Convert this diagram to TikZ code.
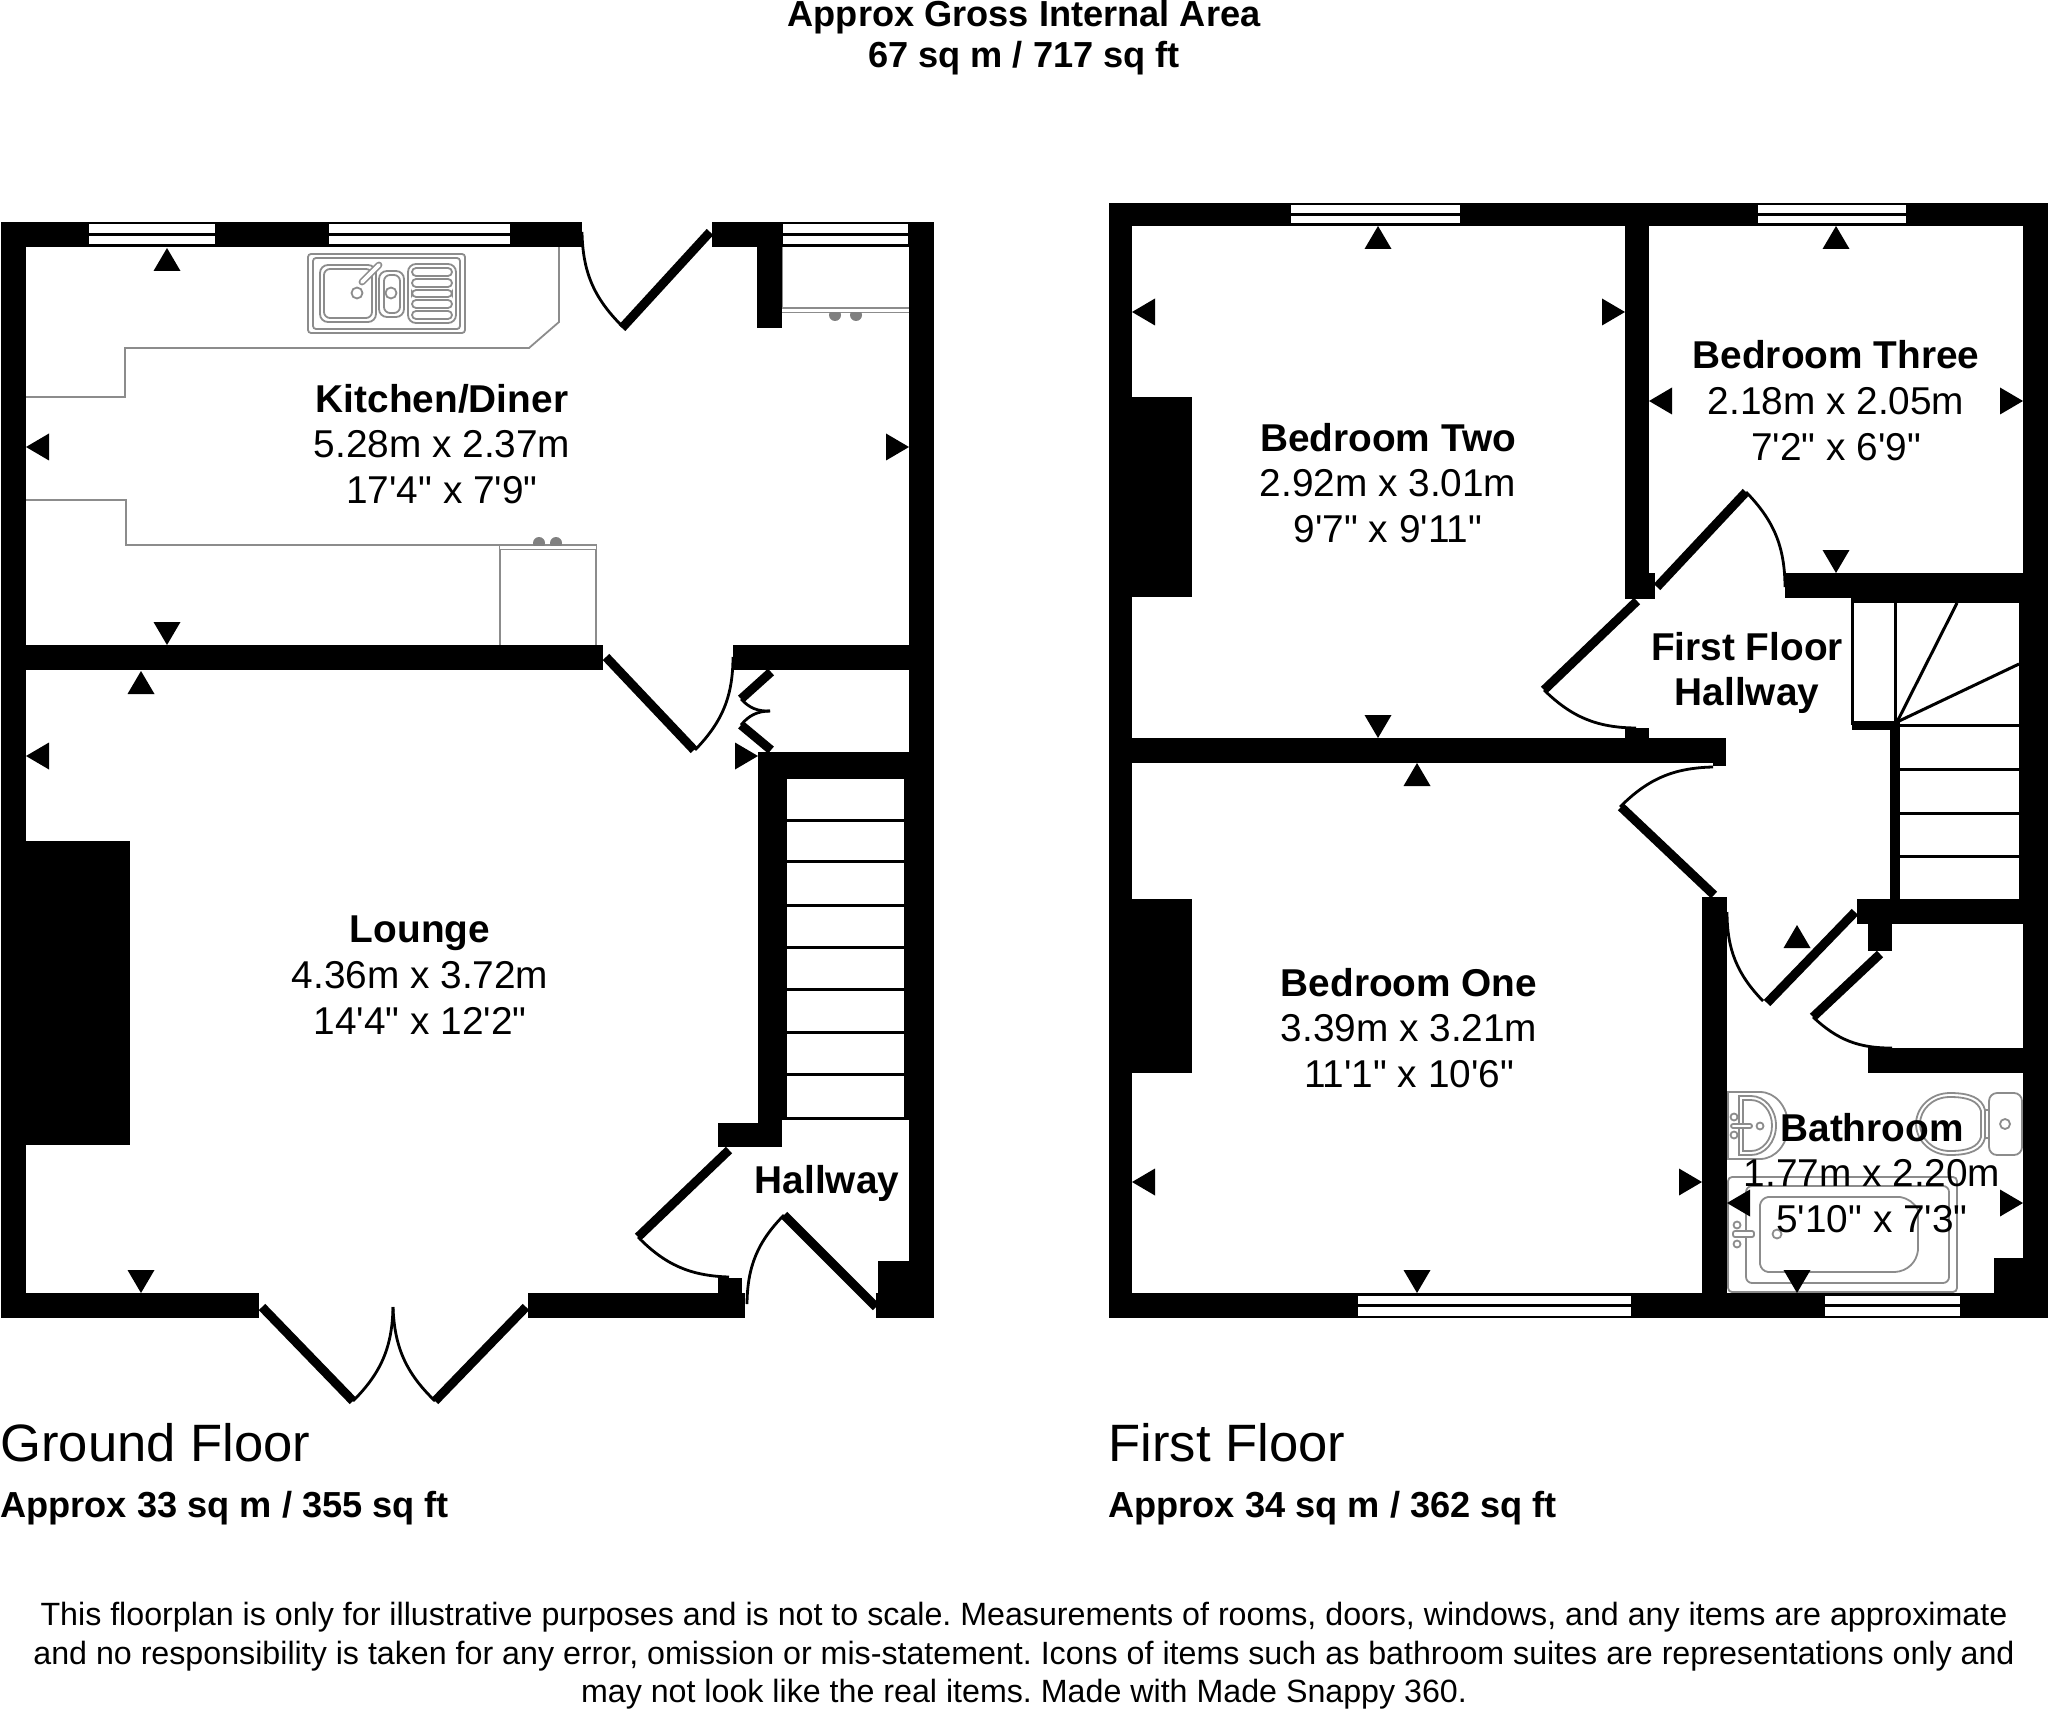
\documentclass[tikz,border=0pt]{standalone}
\usepackage{fontspec}
\defaultfontfeatures[\rmfamily]{}
\setmainfont{Liberation Sans}
\begin{document}
    \begin{tikzpicture}[x=0.5pt,y=-0.5pt,
        wall/.style={fill=black},
        leaf/.style={line width=4.5pt},
        swing/.style={line width=1.4pt},
        pane/.style={fill=white,draw=black,line width=1pt},
        midbar/.style={line width=1.6pt},
        fixture/.style={draw=black!45,line width=0.9pt},
        knob/.style={fill=black!50},
        tread/.style={line width=1.5pt},
        room/.style={align=center,inner sep=0pt,font=\fontsize{19.4pt}{22.9pt}\selectfont},
        heading/.style={inner sep=0pt,anchor=west,font=\fontsize{26.3pt}{30pt}\selectfont},
        subheading/.style={inner sep=0pt,anchor=west,font=\fontsize{18.1pt}{22pt}\selectfont\bfseries},
        note/.style={align=center,inner sep=0pt,font=\fontsize{16.1pt}{19.2pt}\selectfont\frenchspacing}]
      \useasboundingbox (0,0) rectangle (2048,1711);
      \begin{scope}[fixture]
        \draw (559,247) -- (559,322) -- (529,348) -- (125,348) -- (125,397) -- (26,397);
        \draw (26,500) -- (126,500) -- (126,545) -- (596,545) -- (596,645);
        \draw (500,645) -- (500,545);
        \draw (500,549) -- (596,549);
        \draw (782,308) -- (909,308);
        \draw (782,312) -- (909,312);
        \draw (782,247) -- (782,312);
        \draw[rounded corners=1.5pt] (308,254) rectangle (465,333);
        \draw[rounded corners=1.5pt] (313,258) rectangle (460,329);
        \draw[rounded corners=4pt] (320,265) rectangle (376,322);
        \draw[rounded corners=3pt] (324,269) rectangle (372,318);
        \draw[rounded corners=4pt] (379,271) rectangle (404,317);
        \draw[rounded corners=3pt] (384,275) rectangle (400,313);
        \draw[rounded corners=4pt] (408,264) rectangle (456,323);
        \draw[rounded corners=2pt] (412,268) rectangle (452,276);
        \draw[rounded corners=2pt] (412,279) rectangle (452,287);
        \draw[rounded corners=2pt] (412,290) rectangle (452,297);
        \draw[rounded corners=2pt] (412,300) rectangle (452,308);
        \draw[rounded corners=2pt] (412,311) rectangle (452,319);
        \draw (357,293) circle[radius=5.5];
        \draw (391,293) circle[radius=5.5];
        \draw[line width=3.4pt,line cap=round] (362,282) -- (379,265);
        \draw[white,line width=1.8pt,line cap=round] (362,282) -- (379,265);
        \draw (1760,1092) -- (1728,1092) -- (1728,1159) -- (1760,1159) arc[start angle=90,end angle=-90,x radius=28,y radius=33.5];
        \draw (1751,1096) -- (1739,1096) -- (1739,1155) -- (1751,1155) arc[start angle=90,end angle=-90,x radius=25,y radius=29.5];
        \draw (1751,1100) -- (1743,1100) -- (1743,1151) -- (1751,1151) arc[start angle=90,end angle=-90,x radius=21,y radius=25.5];
        \draw (1734,1117) circle[radius=3.5];
        \draw (1734,1135) circle[radius=3.5];
        \draw (1760,1126) circle[radius=3.5];
        \draw[rounded corners=1pt,fill=white] (1731,1124) rectangle (1752,1128);
        \draw[rounded corners=4pt] (1989,1093) rectangle (2022,1155);
        \draw (2005,1124) circle[radius=5];
        \draw (1985,1110) .. controls (1982,1098) and (1970,1093) .. (1950,1093) .. controls (1930,1093) and (1916,1108) .. (1916,1124) .. controls (1916,1140) and (1930,1155) .. (1950,1155) .. controls (1970,1155) and (1982,1150) .. (1985,1138) -- cycle;
        \draw (1981,1111) .. controls (1978,1101) and (1968,1097) .. (1950,1097) .. controls (1932,1097) and (1920,1110) .. (1920,1124) .. controls (1920,1138) and (1932,1151) .. (1950,1151) .. controls (1968,1151) and (1978,1147) .. (1981,1137) -- cycle;
        \draw (1985,1110) -- (1989,1110);
        \draw (1985,1138) -- (1989,1138);
        \draw[rounded corners=2pt] (1728,1177) rectangle (1957,1292);
        \draw[rounded corners=3pt] (1746,1186) rectangle (1949,1283);
        \draw (1768,1197) -- (1900,1197) to[bend left=25] (1918,1210) -- (1918,1250) to[bend left=40] (1895,1272) -- (1768,1272);
        \draw (1768,1272) to[bend left=35] (1760,1264) -- (1760,1205) to[bend left=35] (1768,1197);
        \draw (1737,1225) circle[radius=3.5];
        \draw (1737,1244) circle[radius=3.5];
        \draw (1777,1234) circle[radius=4.5];
        \draw[rounded corners=1pt,fill=white] (1733,1231) rectangle (1754,1237);
      \end{scope}
      \fill[knob] (539,543) circle[radius=6];
      \fill[knob] (556,543) circle[radius=6];
      \fill[knob] (835,315) circle[radius=6];
      \fill[knob] (856,315) circle[radius=6];
      \fill[white] (500,546) rectangle (596,549);
      \fill[white] (782,309) rectangle (909,312);
      \begin{scope}[wall]
        \fill (1,222) rectangle (582,247);
        \fill (712,222) rectangle (934,247);
        \fill (1,222) rectangle (26,1318);
        \fill (909,222) rectangle (934,1318);
        \fill (757,247) rectangle (782,328);
        \fill (26,645) rectangle (603,670);
        \fill (733,645) rectangle (909,670);
        \fill (758,752) rectangle (909,779);
        \fill (904,779) rectangle (909,1117);
        \fill (758,779) rectangle (787,1117);
        \fill (758,1117) rectangle (782,1147);
        \fill (718,1123) rectangle (782,1147);
        \fill (26,841) rectangle (130,1145);
        \fill (1,1293) rectangle (259,1318);
        \fill (528,1293) rectangle (745,1318);
        \fill (718,1278) rectangle (742,1293);
        \fill (876,1293) rectangle (934,1318);
        \fill (878,1261) rectangle (909,1293);
        \fill (1109,203) rectangle (2048,226);
        \fill (1109,203) rectangle (1132,1318);
        \fill (2023,203) rectangle (2048,1318);
        \fill (2019,598) rectangle (2023,899);
        \fill (1625,226) rectangle (1649,599);
        \fill (1649,573) rectangle (1655,599);
        \fill (1785,573) rectangle (2023,598);
        \fill (1851,598) rectangle (2023,603);
        \fill (1625,728) rectangle (1649,740);
        \fill (1132,738) rectangle (1726,763);
        \fill (1713,763) rectangle (1726,766);
        \fill (1702,897) rectangle (1727,1318);
        \fill (1109,1293) rectangle (2048,1318);
        \fill (1132,397) rectangle (1192,597);
        \fill (1132,899) rectangle (1192,1073);
        \fill (1890,725) rectangle (1900,899);
        \fill (1852,721) rectangle (1900,730);
        \fill (1857,899) rectangle (2023,924);
        \fill (1868,924) rectangle (1892,951);
        \fill (1868,1048) rectangle (2023,1073);
        \fill (1994,1258) rectangle (2023,1293);
      \end{scope}
      \begin{scope}[pane]
        \filldraw (88,223.5) rectangle (216,245.5);
        \filldraw (328,223.5) rectangle (511,245.5);
        \filldraw (782,223.5) rectangle (909,245.5);
        \filldraw (1290,204.5) rectangle (1461,224.5);
        \filldraw (1757,204.5) rectangle (1907,224.5);
        \filldraw (1357,1295) rectangle (1632,1316.5);
        \filldraw (1824,1295) rectangle (1961,1316.5);
      \end{scope}
      \begin{scope}[midbar]
        \draw (88,234.5) -- (216,234.5);
        \draw (328,234.5) -- (511,234.5);
        \draw (782,234.5) -- (909,234.5);
        \draw (1290,214.5) -- (1461,214.5);
        \draw (1757,214.5) -- (1907,214.5);
        \draw (1357,1305.5) -- (1632,1305.5);
        \draw (1824,1305.5) -- (1961,1305.5);
      \end{scope}
      \begin{scope}[leaf]
        \draw (710,232) -- (622,328);
        \draw (606,657) -- (694,750);
        \draw (771,672) -- (741,699);
        \draw (741,725) -- (771,750);
        \draw (262,1307) -- (353,1401);
        \draw (526,1307) -- (435,1401);
        \draw (729,1150) -- (638,1237);
        \draw (784,1215) -- (876,1307);
        \draw (1657,587) -- (1746,492);
        \draw (1637,601) -- (1544,690);
        \draw (1621,807) -- (1714,895);
        \draw (1855,912) -- (1767,1003);
        \draw (1880,954) -- (1813,1017);
      \end{scope}
      \begin{scope}[swing]
        \draw (582,232) to[bend right=22] (622,326);
        \draw (733,657) to[bend left=22] (695,750);
        \draw (741,699) to[bend right=25] (770,711);
        \draw (770,711) to[bend right=25] (741,725);
        \draw (393,1307) to[bend left=22] (353,1401);
        \draw (393,1307) to[bend right=22] (435,1401);
        \draw (638,1237) to[bend right=22] (729,1277);
        \draw (784,1215) to[bend right=22] (747,1304);
        \draw (1746,492) to[bend left=22] (1785,587);
        \draw (1544,690) to[bend right=22] (1636,728);
        \draw (1713,767) to[bend right=22] (1620,807);
        \draw (1727,912) to[bend right=22] (1763,1001);
        \draw (1813,1017) to[bend right=22] (1892,1048);
      \end{scope}
      \begin{scope}[tread]
        \draw (787,820) -- (904,820);
        \draw (787,861) -- (904,861);
        \draw (787,905) -- (904,905);
        \draw (787,947) -- (904,947);
        \draw (787,989) -- (904,989);
        \draw (787,1032) -- (904,1032);
        \draw (787,1074) -- (904,1074);
        \draw (782,1118) -- (909,1118);
        \draw (1852.5,603) -- (1852.5,725);
        \draw (1895,603) -- (1895,725);
        \draw (1897,722) -- (1957,603);
        \draw (1897,722) -- (2019,664);
        \draw (1900,725.5) -- (2019,725.5);
        \draw (1900,769) -- (2019,769);
        \draw (1900,813) -- (2019,813);
        \draw (1900,856) -- (2019,856);
      \end{scope}
      \begin{scope}[wall]
        \fill (167,248) -- ++(-13.5,23) -- ++(27,0) -- cycle;
        \fill (141,671) -- ++(-13.5,23) -- ++(27,0) -- cycle;
        \fill (1378,226) -- ++(-13.5,23) -- ++(27,0) -- cycle;
        \fill (1417,763) -- ++(-13.5,23) -- ++(27,0) -- cycle;
        \fill (1836,226) -- ++(-13.5,23) -- ++(27,0) -- cycle;
        \fill (1797,925) -- ++(-13.5,23) -- ++(27,0) -- cycle;
        \fill (167,645) -- ++(-13.5,-23) -- ++(27,0) -- cycle;
        \fill (141,1293) -- ++(-13.5,-23) -- ++(27,0) -- cycle;
        \fill (1378,738) -- ++(-13.5,-23) -- ++(27,0) -- cycle;
        \fill (1417,1293) -- ++(-13.5,-23) -- ++(27,0) -- cycle;
        \fill (1836,573) -- ++(-13.5,-23) -- ++(27,0) -- cycle;
        \fill (1797,1293) -- ++(-13.5,-23) -- ++(27,0) -- cycle;
        \fill (26,447) -- ++(23,-13.5) -- ++(0,27) -- cycle;
        \fill (26,756) -- ++(23,-13.5) -- ++(0,27) -- cycle;
        \fill (1132,312) -- ++(23,-13.5) -- ++(0,27) -- cycle;
        \fill (1132,1182) -- ++(23,-13.5) -- ++(0,27) -- cycle;
        \fill (1649,401) -- ++(23,-13.5) -- ++(0,27) -- cycle;
        \fill (1727,1203) -- ++(23,-13.5) -- ++(0,27) -- cycle;
        \fill (909,447) -- ++(-23,-13.5) -- ++(0,27) -- cycle;
        \fill (758,756) -- ++(-23,-13.5) -- ++(0,27) -- cycle;
        \fill (1625,312) -- ++(-23,-13.5) -- ++(0,27) -- cycle;
        \fill (1702,1182) -- ++(-23,-13.5) -- ++(0,27) -- cycle;
        \fill (2023,401) -- ++(-23,-13.5) -- ++(0,27) -- cycle;
        \fill (2023,1203) -- ++(-23,-13.5) -- ++(0,27) -- cycle;
      \end{scope}
      \draw
        (1024,37.5) node[align=center,inner sep=0pt,font=\fontsize{18.1pt}{20.4pt}\selectfont\bfseries] (grossarea){Approx Gross Internal Area\\67 sq m / 717 sq ft}
        (442,444) node[room] (kitchen){\textbf{Kitchen/Diner}\\5.28m x 2.37m\\17'4" x 7'9"}
        (420,975) node[room] (lounge){\textbf{Lounge}\\4.36m x 3.72m\\14'4" x 12'2"}
        (827,1183) node[room] (hallway){\textbf{Hallway}}
        (1388,483) node[room] (bedtwo){\textbf{Bedroom Two}\\2.92m x 3.01m\\9'7" x 9'11"}
        (1836,400.5) node[room] (bedthree){\textbf{Bedroom Three}\\2.18m x 2.05m\\7'2" x 6'9"}
        (1747,673) node[room] (landing){\textbf{First Floor}\\\textbf{Hallway}}
        (1409,1028) node[room] (bedone){\textbf{Bedroom One}\\3.39m x 3.21m\\11'1" x 10'6"}
        (1872,1173) node[room] (bathroom){\textbf{Bathroom}\\1.77m x 2.20m\\5'10" x 7'3"}
        (0,1443) node[heading] (groundfloor){Ground Floor}
        (0,1508) node[subheading] (groundarea){Approx 33 sq m / 355 sq ft}
        (1108,1443) node[heading] (firstfloor){First Floor}
        (1108,1508) node[subheading] (firstarea){Approx 34 sq m / 362 sq ft}
        (1024,1656) node[note] (disclaimer){This floorplan is only for illustrative purposes and is not to scale. Measurements of rooms, doors, windows, and any items are approximate\\and no responsibility is taken for any error, omission or mis-statement. Icons of items such as bathroom suites are representations only and\\may not look like the real items. Made with Made Snappy 360.};
    \end{tikzpicture}
\end{document}
